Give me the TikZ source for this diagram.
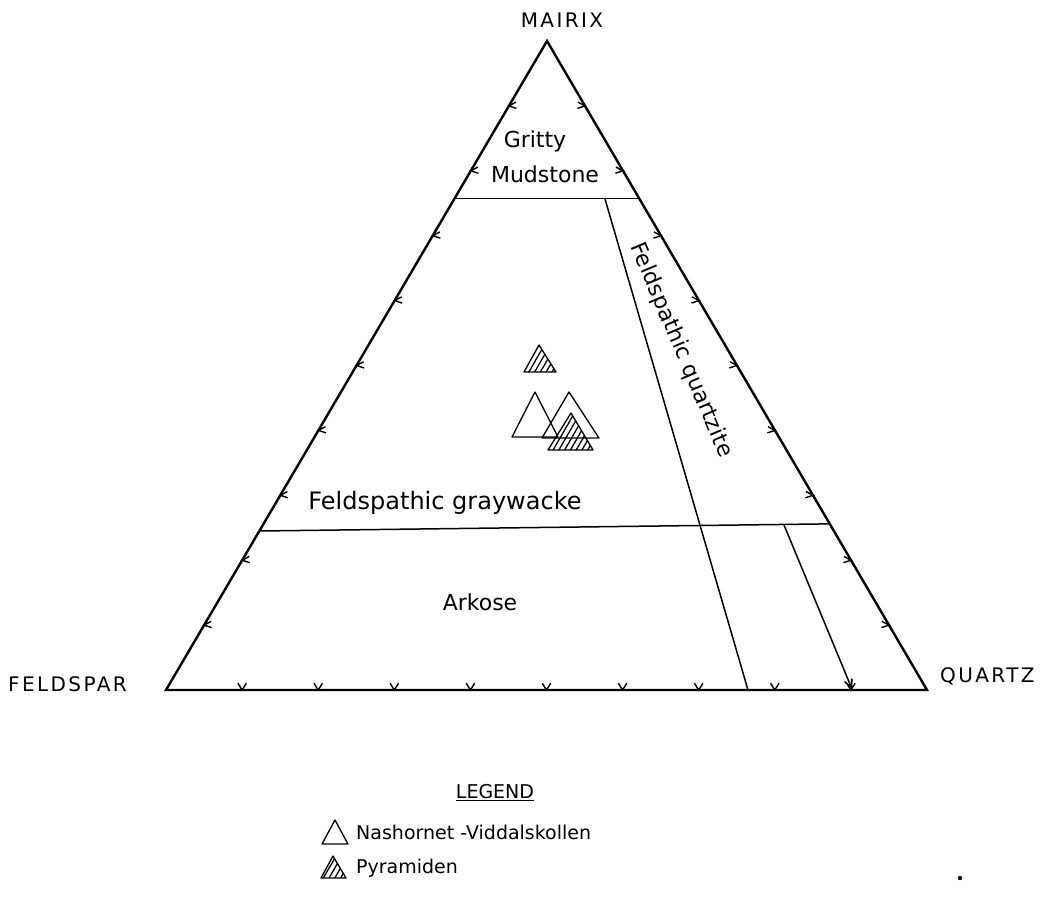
\documentclass[tikz,border=0pt]{standalone}
\usepackage{fontspec}
\setmainfont{DejaVu Sans}
\newfontfamily\spacedfont[LetterSpace=12]{DejaVu Sans}
\usetikzlibrary{calc,arrows.meta,patterns.meta}
\begin{document}
\begin{tikzpicture}[x=1pt,y=-1pt,
  outer/.style={line width=2.4pt,line join=miter},
  divide/.style={line width=1.5pt},
  tickmark/.style={line width=1.4pt,line join=miter},
  txt/.style={inner sep=0pt,font=\fontsize{22}{26}\selectfont},
  captxt/.style={inner sep=0pt,font=\spacedfont\fontsize{20}{24}\selectfont},
  legtxt/.style={inner sep=0pt,font=\fontsize{19}{23}\selectfont},
  datatri/.style={line width=1.3pt,line join=round},
  hatched/.style={datatri,pattern={Lines[angle=60,distance=5pt,line width=1.3pt]}}]
\useasboundingbox (0,0) rectangle (1045,908);
% vertices
\coordinate (A) at (547,41);
\coordinate (L) at (166,690);
\coordinate (R) at (927,690);
\draw[outer] (L) -- (A) -- (R) -- cycle;
% field boundaries
\coordinate (g1) at ($(L)!0.757!(A)$);
\coordinate (g2) at ($(R)!0.757!(A)$);
\draw[divide] (g1) -- (g2);
\coordinate (k1) at ($(L)!0.245!(A)$);
\coordinate (k2) at ($(R)!0.256!(A)$);
\draw[divide] (k1) -- (k2);
\coordinate (q1) at (605,199);
\coordinate (q2) at (748,690);
\draw[divide] (q1) -- (q2);
\coordinate (r1) at (784,525);
\coordinate (r2) at (852,689);
\draw[divide,-{Straight Barb[length=8pt,width=8pt]}] (r1) -- (r2);
% tick marks
\foreach \k in {1,...,9}{
  \coordinate (tb\k) at ($(L)!\k/10!(R)$);
  \draw[tickmark] ($(tb\k)+(238:8)$) -- (tb\k) -- ($(tb\k)+(302:8)$);
  \coordinate (tl\k) at ($(L)!\k/10!(A)$);
  \draw[tickmark] ($(tl\k)+(-28:8)$) -- (tl\k) -- ($(tl\k)+(18:8)$);
  \coordinate (tr\k) at ($(A)!\k/10!(R)$);
  \draw[tickmark] ($(tr\k)+(162:8)$) -- (tr\k) -- ($(tr\k)+(208:8)$);
}
% corner labels
\node[captxt] (matrix) at (562,20) {MAIRIX};
\node[captxt,anchor=west] (feldspar) at (8,684) {FELDSPAR};
\node[captxt,anchor=west] (quartz) at (940,676) {QUARTZ};
% field labels
\node[txt] (gritty) at (535,141) {Gritty};
\node[txt] (mudstone) at (545,174) {Mudstone};
\node[txt,font=\fontsize{24}{28}\selectfont] (fgw) at (445,503) {Feldspathic graywacke};
\node[txt] (arkose) at (480,602) {Arkose};
\node[txt,rotate=-67] (fq) at (681,350) {Feldspathic quartzite};
% data symbols
\draw[datatri] (512,437) -- (535,392) -- (558,437) -- cycle;
\draw[datatri] (542,438) -- (569,392) -- (599,438) -- cycle;
\draw[hatched] (524,372) -- (539,345) -- (556,372) -- cycle;
\draw[hatched] (548,450) -- (571,413) -- (593,450) -- cycle;
% legend
\node[legtxt] (legend) at (495,793) {\underline{LEGEND}};
\draw[datatri] (322,844) -- (335,820) -- (348,844) -- cycle;
\node[legtxt,anchor=west] (nv) at (356,832) {Nashornet -Viddalskollen};
\draw[hatched] (321,878) -- (333,856) -- (346,878) -- cycle;
\node[legtxt,anchor=west] (pyr) at (356,868) {Pyramiden};
\fill (960,878) circle (2.2);
\end{tikzpicture}
\end{document}
